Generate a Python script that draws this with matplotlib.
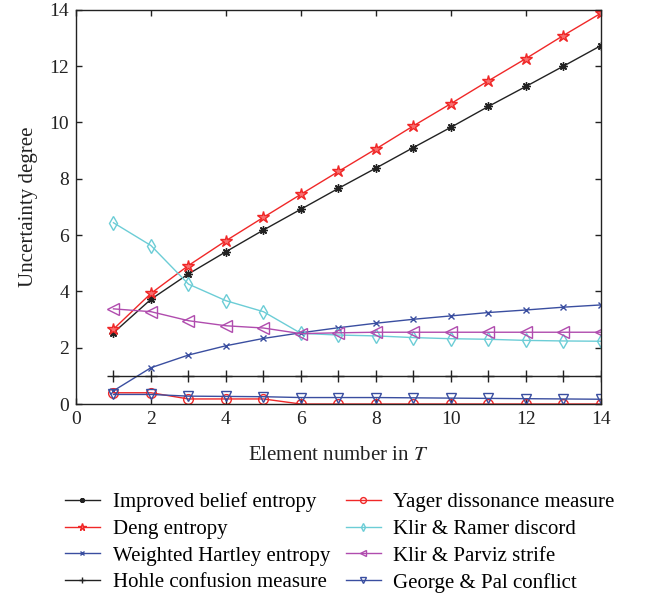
import numpy as np
import matplotlib
matplotlib.use('Agg')
import matplotlib.pyplot as plt

plt.rcParams['font.family'] = ['Liberation Serif', 'DejaVu Serif']
plt.rcParams['mathtext.fontset'] = 'stix'

# data
x = np.arange(1, 15)
improved = [2.53, 3.72, 4.62, 5.41, 6.18, 6.92, 7.66, 8.38, 9.11, 9.83, 10.57, 11.28, 12.0, 12.73]
deng = [2.66, 3.93, 4.92, 5.80, 6.63, 7.45, 8.26, 9.06, 9.88, 10.67, 11.48, 12.27, 13.09, 13.88]
hartley = [0.47, 1.29, 1.74, 2.07, 2.33, 2.53, 2.71, 2.87, 3.01, 3.13, 3.25, 3.34, 3.44, 3.52]
hohle = [1.0] * 14
yager = [0.40, 0.40, 0.18, 0.18, 0.18, 0, 0, 0, 0, 0, 0, 0, 0, 0]
ramer = [6.44, 5.63, 4.26, 3.67, 3.28, 2.51, 2.45, 2.42, 2.36, 2.32, 2.30, 2.26, 2.24, 2.23]
parviz = [3.38, 3.28, 2.96, 2.78, 2.70, 2.50, 2.53, 2.55, 2.55, 2.55, 2.55, 2.55, 2.55, 2.55]
george = [0.34, 0.34, 0.28, 0.27, 0.26, 0.23, 0.23, 0.23, 0.22, 0.21, 0.20, 0.19, 0.18, 0.17]

fig = plt.figure(figsize=(6.46, 5.99), dpi=100)
ax = fig.add_axes([0.1176, 0.3255, 0.8125, 0.658])

lw = 1.0
l1, = ax.plot(x, improved, color='#222222', lw=lw, marker=(8, 2, 0), ms=6, mew=1.0,
              label='Improved belief entropy')
l2, = ax.plot(x, deng, color='#f02828', lw=lw, marker='*', ms=9, mew=1.0,
              mfc='#f87070', label='Deng entropy')
l3, = ax.plot(x, hartley, color='#3a4ea0', lw=lw, marker='x', ms=4.5, mew=1.0,
              label='Weighted Hartley entropy')
l4, = ax.plot(x, hohle, color='#222222', lw=lw, marker='+', ms=8, mew=1.0,
              label='Hohle confusion measure')
l5, = ax.plot(x, yager, color='#f02828', lw=lw, marker='o', ms=7, mew=1.0,
              mfc='none', label='Yager dissonance measure')
l6, = ax.plot(x, ramer, color='#6ccdd6', lw=lw, marker='d', ms=7, mew=1.0,
              mfc='none', label='Klir & Ramer discord')
l7, = ax.plot(x, parviz, color='#b04cae', lw=lw, marker='<', ms=8, mew=1.0,
              mfc='none', label='Klir & Parviz strife')
l8, = ax.plot(x, george, color='#3a4ea0', lw=lw, marker='v', ms=7, mew=1.0,
              mfc='none', label='George & Pal conflict')

ax.set_xlim(0, 14)
ax.set_ylim(0, 14)
ax.set_xticks(range(0, 15, 2))
ax.set_yticks(range(0, 15, 2))
ax.tick_params(direction='in', top=True, right=True, length=4, width=1,
               labelsize=14, colors='#222222', pad=5)
for s in ax.spines.values():
    s.set_linewidth(1.0)
    s.set_color('#222222')

ax.set_xlabel('Element number in $T$', fontsize=15, color='#222222', labelpad=13)
ax.set_ylabel('Uncertainty degree', fontsize=15, color='#222222', labelpad=8)

handles = [l1, l2, l3, l4, l5, l6, l7, l8]
fig.legend(handles=handles, loc='upper left', bbox_to_anchor=(0.1, 0.178),
           ncol=2, frameon=False, fontsize=15, handlelength=1.7,
           handletextpad=0.6, markerscale=0.6, labelspacing=0.34,
           columnspacing=0.75, borderaxespad=0, borderpad=0)

fig.savefig('out.png', dpi=100)
